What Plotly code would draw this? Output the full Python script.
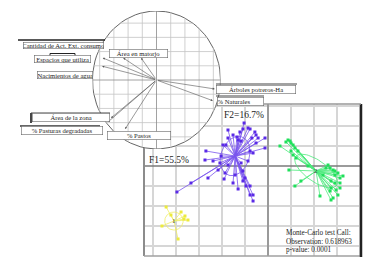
import numpy as np
import plotly.graph_objects as go

W, H = 382, 266
SERIF = "Liberation Serif, Times New Roman, serif"

# ---------------- correlation circle (variable loadings) ----------------
VARIABLES = ["Cantidad de Act. Ext. consumo", "Espacios que utiliza", "Nacimientos de agua",
             "Área en matorjo", "Árboles potreros-Ha", "% Naturales",
             "Área de la zona", "% Pasturas degradadas", "% Pastos"]
LOAD_F1 = [-0.52, -0.84, -0.85, -0.24, 0.91, 0.88, -0.71, -0.76, -0.49]
LOAD_F2 = [0.32, 0.32, 0.20, 0.32, -0.13, -0.30, -0.55, -0.61, -0.71]

# ---------------- individuals (F1, F2 scores) per group ----------------
G1_X = [-4.43, -4.61, -3.91, -3.61, -3.48, -4.22, -3.78, -3.65]
G1_Y = [-2.05, -3.00, -3.65, -2.50, -2.70, -2.45, -2.30, -2.65]

G2_X = [0.87, 0.96, 1.00, 1.09, 0.52, 1.17, 1.30, 1.09, 0.91, 1.17, 2.26, 2.52, 2.70, 2.83,
        2.91, 3.04, 3.26, 3.13, 2.91, 2.74, 2.91, 3.13, 2.74, 2.70, 2.83, 3.04, 2.96, 2.39,
        2.74, 3.13, 1.00, 1.43, 0.78, 1.22, 1.74, 2.61]
G2_Y = [1.30, 1.25, 1.15, 1.05, 1.00, 0.90, 0.75, 0.55, -0.20, -1.00, -1.50, -0.10, -0.10, -0.20,
        -0.25, -0.35, -0.50, -0.60, -0.45, -0.75, -0.85, -0.85, -1.10, -1.25, -1.60, -1.45, -1.20, -0.45,
        -1.70, -1.10, 0.75, -0.75, 1.20, 0.40, 0.00, 0.05]

G3_X = [-1.74, -1.52, -1.09, -0.87, -0.57, -0.52, -0.43, -0.52, -0.13, -1.74, -1.83, -1.96,
        -1.30, -1.17, -0.78, -0.65, -2.74, -2.39, -2.09, -2.04, -1.74, -1.17, -0.87, -2.17,
        -1.87, -1.43, -1.09, -1.00, -2.61, -0.96, -0.78, -1.52, -1.04, -1.35, -0.78, -2.70,
        -1.91, -1.30, -1.09, -0.78, -0.65, -0.65, -3.96, -3.35, -0.13, -1.22, -0.70]
G3_Y = [1.80, 1.55, 1.85, 1.90, 1.70, 1.55, 1.40, 1.15, 0.90, 1.40, 1.05, 1.05,
        1.30, 1.25, 0.75, 0.65, 0.30, 0.25, 0.15, 0.50, 0.05, 0.15, 0.25, -0.20,
        -0.35, -0.45, -0.25, -0.60, -0.60, -1.00, -1.00, -0.85, 2.15, 1.45, 1.85, 0.75,
        -0.65, -1.15, -0.75, -1.45, -1.45, -1.75, -1.30, -0.85, 1.40, 1.70, 1.40]

# group centres and inertia ellipses (centre x, centre y, semi-axis a, semi-axis b, angle deg)
CENTRE_X = [-4.09, 2.09, -1.43]
CENTRE_Y = [-2.75, -0.25, 0.50]
ELL_A = [0.40, 1.15, 1.00]
ELL_B = [0.45, 0.50, 0.62]
ELL_ANG = [0, -41, 76]

GROUP_COLORS = ["#ecea3c", "#1fe05a", "#5a2ae6"]
LINE_COLORS = ["#f0ee66", "#4cea7c", "#7a55ee"]
GROUP_LABELS = ["1", "2", "3"]

AXIS_TEXT = ["F2=16.7%", "F1=55.5%"]
TEST_TEXT = ["Monte-Carlo test Call:", "Observation: 0.618963", "p-value: 0.0001"]

X_RANGE = [(136 - 260) / 23, (353 - 260) / 23]
Y_RANGE = [(158 - 248) / 20, (158 - 96) / 20]
GRID_X = [-5, -4, -3, -2, -1, 1, 2, 3, 4]
GRID_Y = [-4, -3, -2, -1, 1, 2, 3]


def px(x):
    return x / W


def py(y):
    return 1 - y / H


fig = go.Figure()

# scatter-panel grid (unit spacing), one trace per line
for k in GRID_X:
    fig.add_trace(go.Scatter(x=[k, k], y=[Y_RANGE[0], Y_RANGE[1]], mode="lines",
                             line=dict(color="#d6d6d6", width=2), xaxis="x", yaxis="y",
                             hoverinfo="skip"))
for k in GRID_Y:
    fig.add_trace(go.Scatter(x=[X_RANGE[0], X_RANGE[1]], y=[k, k], mode="lines",
                             line=dict(color="#d6d6d6", width=2), xaxis="x", yaxis="y",
                             hoverinfo="skip"))
fig.add_trace(go.Scatter(x=[X_RANGE[0], X_RANGE[1]], y=[0, 0], mode="lines",
                         line=dict(color="#7a7a7a", width=1.3), xaxis="x", yaxis="y", hoverinfo="skip"))
fig.add_trace(go.Scatter(x=[0, 0], y=[Y_RANGE[0], Y_RANGE[1]], mode="lines",
                         line=dict(color="#9a9a9a", width=2), xaxis="x", yaxis="y", hoverinfo="skip"))

groups = [(G1_X, G1_Y), (G2_X, G2_Y), (G3_X, G3_Y)]
t = np.linspace(0, 2 * np.pi, 80)
for gi, (gx, gy) in enumerate(groups):
    cx, cy = CENTRE_X[gi], CENTRE_Y[gi]
    sx, sy = [], []
    for xv, yv in zip(gx, gy):
        sx += [cx, xv, None]
        sy += [cy, yv, None]
    fig.add_trace(go.Scatter(x=sx, y=sy, mode="lines", xaxis="x", yaxis="y",
                             line=dict(color=LINE_COLORS[gi], width=0.8), hoverinfo="skip"))
    a, b, ang = ELL_A[gi], ELL_B[gi], np.radians(ELL_ANG[gi])
    ex = cx + a * np.cos(t) * np.cos(ang) - b * np.sin(t) * np.sin(ang)
    ey = cy + a * np.cos(t) * np.sin(ang) + b * np.sin(t) * np.cos(ang)
    fig.add_trace(go.Scatter(x=ex, y=ey, mode="lines", xaxis="x", yaxis="y",
                             line=dict(color=LINE_COLORS[gi], width=0.8), hoverinfo="skip"))
    fig.add_trace(go.Scatter(x=gx, y=gy, mode="markers", xaxis="x", yaxis="y",
                             marker=dict(color=GROUP_COLORS[gi], size=3, symbol="square"),
                             hoverinfo="skip"))

# ---------------- correlation circle (second axes) ----------------
circ_x = np.cos(t)
circ_y = np.sin(t)
fig.add_trace(go.Scatter(x=circ_x, y=circ_y, mode="lines", fill="toself", fillcolor="white",
                         line=dict(color="#555", width=0.9), xaxis="x2", yaxis="y2",
                         hoverinfo="skip"))
STEP_X, STEP_Y = 0.222, 0.206
gxs, gys = [], []
for k in range(-5, 6):
    v = k * STEP_X
    if abs(v) < 1 and k != 0:
        h = np.sqrt(1 - v * v)
        gxs += [v, v, None]
        gys += [-h, h, None]
for k in range(-5, 6):
    v = k * STEP_Y
    if abs(v) < 1 and k != 0:
        h = np.sqrt(1 - v * v)
        gxs += [-h, h, None]
        gys += [v, v, None]
fig.add_trace(go.Scatter(x=gxs, y=gys, mode="lines", line=dict(color="#c4c4c4", width=0.8),
                         xaxis="x2", yaxis="y2", hoverinfo="skip"))
fig.add_trace(go.Scatter(x=[-1, 1, None, 0, 0], y=[0, 0, None, -1, 1.05], mode="lines",
                         line=dict(color="#8a8a8a", width=0.8), xaxis="x2", yaxis="y2",
                         hoverinfo="skip"))

annotations = []
for f1, f2 in zip(LOAD_F1, LOAD_F2):
    annotations.append(dict(x=f1, y=f2, ax=0, ay=0, xref="x2", yref="y2", axref="x2", ayref="y2",
                            text="", showarrow=True, arrowhead=2, arrowsize=0.7, arrowwidth=0.6,
                            arrowcolor="#555"))

# label boxes: (text, centre x px, centre y px, width, height, align)
BOXES = [
    (VARIABLES[0], 56, 37, 82, 8, "center"),
    (VARIABLES[1], 54, 50.5, 58, 9, "center"),
    (VARIABLES[2], 56.5, 66.5, 57, 9, "left"),
    (VARIABLES[3], 130, 45, 60, 10, "center"),
    (VARIABLES[4], 248.5, 81, 81, 10, "center"),
    (VARIABLES[5], 232, 93, 48, 10, "left"),
    (VARIABLES[6], 62.5, 110, 79, 10, "center"),
    (VARIABLES[7], 53.5, 123, 83, 10, "center"),
    (VARIABLES[8], 130.5, 127, 65, 10, "center"),
]
for txt, cxp, cyp, w, h, al in BOXES:
    annotations.append(dict(text=txt, x=px(cxp), y=py(cyp), xref="paper", yref="paper",
                            xanchor="center", yanchor="middle", showarrow=False,
                            width=w - 2, height=h - 2, align=al, valign="middle",
                            bgcolor="white", bordercolor="#666", borderwidth=0.6, borderpad=0,
                            font=dict(family=SERIF, size=6.6, color="#222")))

annotations.append(dict(text=AXIS_TEXT[0], x=px(235.5), y=py(107), xref="paper", yref="paper",
                        showarrow=False, font=dict(family=SERIF, size=9.5, color="#222")))
annotations.append(dict(text=AXIS_TEXT[1], x=px(160.5), y=py(152), xref="paper", yref="paper",
                        showarrow=False, font=dict(family=SERIF, size=9.5, color="#222")))
for i, line in enumerate(TEST_TEXT):
    annotations.append(dict(text=line, x=px(276), y=py(225 + 8.5 * i), xref="paper", yref="paper",
                            xanchor="left", yanchor="middle", showarrow=False,
                            font=dict(family=SERIF, size=7.2, color="#222")))
for gi in range(2):
    annotations.append(dict(text=GROUP_LABELS[gi], x=CENTRE_X[gi], y=CENTRE_Y[gi], xref="x", yref="y",
                            showarrow=False, font=dict(family=SERIF, size=7, color="#333")))


def seg(x0, y0, x1, y1, color, width):
    return dict(type="line", xref="paper", yref="paper", x0=px(x0), y0=py(y0), x1=px(x1), y1=py(y1),
                line=dict(color=color, width=width), layer="above")


shapes = [
    seg(136, 140, 136, 248, "#8c8c8c", 2),
    seg(136, 248, 353, 248, "#a0a0a0", 1.5),
    seg(353, 96, 353, 249, "#222", 2.5),
    seg(256, 96, 353, 96, "#999", 1.5),
    seg(10, 32, 97, 32, "#222", 1.4),
    seg(42, 45.5, 67, 45.5, "#222", 1),
    seg(42, 45.5, 42, 55, "#222", 1),
    seg(67, 45.5, 67, 50, "#222", 1),
    seg(23, 105, 23, 115, "#333", 1.8),
    seg(23, 105, 102, 105, "#444", 1),
    seg(12, 118, 92, 118, "#333", 1.5),
    seg(208, 76, 289, 76, "#444", 1),
    seg(208, 88, 256, 88, "#444", 1),
]

fig.update_layout(
    width=W, height=H, margin=dict(l=0, r=0, t=0, b=0),
    paper_bgcolor="white", plot_bgcolor="rgba(0,0,0,0)", showlegend=False,
    xaxis=dict(domain=[px(136), px(353)], range=X_RANGE,
               showgrid=False, zeroline=False,
               showticklabels=False, ticks="", showline=False, fixedrange=True),
    yaxis=dict(domain=[py(248), py(96)], range=Y_RANGE,
               showgrid=False, zeroline=False,
               showticklabels=False, ticks="", showline=False, fixedrange=True),
    xaxis2=dict(domain=[px(148.5 - 64), px(148.5 + 64)], range=[-1, 1], anchor="y2",
                showgrid=False, zeroline=False, showticklabels=False, ticks="", showline=False),
    yaxis2=dict(domain=[py(72 + 69), py(72 - 69)], range=[-1, 1], anchor="x2",
                showgrid=False, zeroline=False, showticklabels=False, ticks="", showline=False),
    annotations=annotations, shapes=shapes,
)

fig.write_html("out.html")
